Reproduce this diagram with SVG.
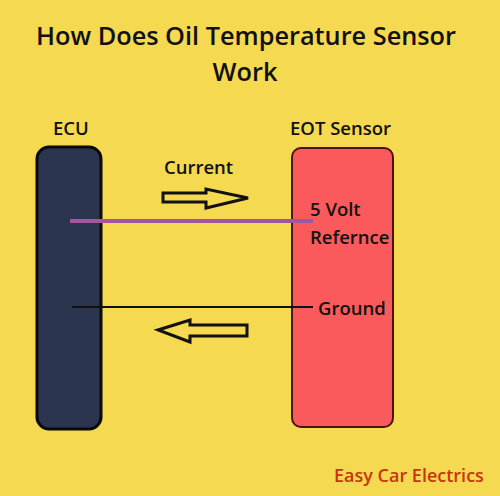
<svg xmlns="http://www.w3.org/2000/svg" width="500" height="496" viewBox="0 0 500 496">
<style>
text{font-family:"Open Sans","Noto Sans","Liberation Sans",sans-serif;fill:#111;font-weight:600}
.t{font-size:25.3px}
.l{font-size:18.5px}
.arrow{fill:none;stroke:#111;stroke-width:3;stroke-linejoin:miter}
</style>
<rect width="500" height="496" fill="#f4d951"/>
<text class="t" x="246" y="45" text-anchor="middle">How Does Oil Temperature Sensor</text>
<text class="t" x="245" y="81" text-anchor="middle">Work</text>
<g id="ecu">
<rect x="37" y="147" width="64" height="282" rx="12" fill="#2b3550" stroke="#0a0a0a" stroke-width="3"/>
<text class="l" x="53" y="135">ECU</text>
</g>
<g id="eot">
<rect x="292" y="148" width="101" height="279" rx="9" fill="#fa5a5c" stroke="#4a1414" stroke-width="2"/>
<text class="l" x="290" y="135">EOT Sensor</text>
<text class="l" x="310" y="216">5 Volt</text>
<text class="l" x="310" y="244">Refernce</text>
<text class="l" x="318" y="315">Ground</text>
</g>
<g id="connectors">
<line x1="70" y1="221" x2="313" y2="221" stroke="#a0579e" stroke-width="4"/>
<line x1="72" y1="307" x2="313" y2="307" stroke="#111" stroke-width="2.2"/>
<text class="l" x="164" y="174">Current</text>
<polygon class="arrow" points="163,193 206,193 206,189 248,198 206,208 206,202 163,202"/>
<polygon class="arrow" points="247,325 190,325 190,320 158,330 190,342 190,336 247,336"/>
</g>
<text x="334" y="482" style="font-size:18px;fill:#c8350c">Easy Car Electrics</text>
</svg>
